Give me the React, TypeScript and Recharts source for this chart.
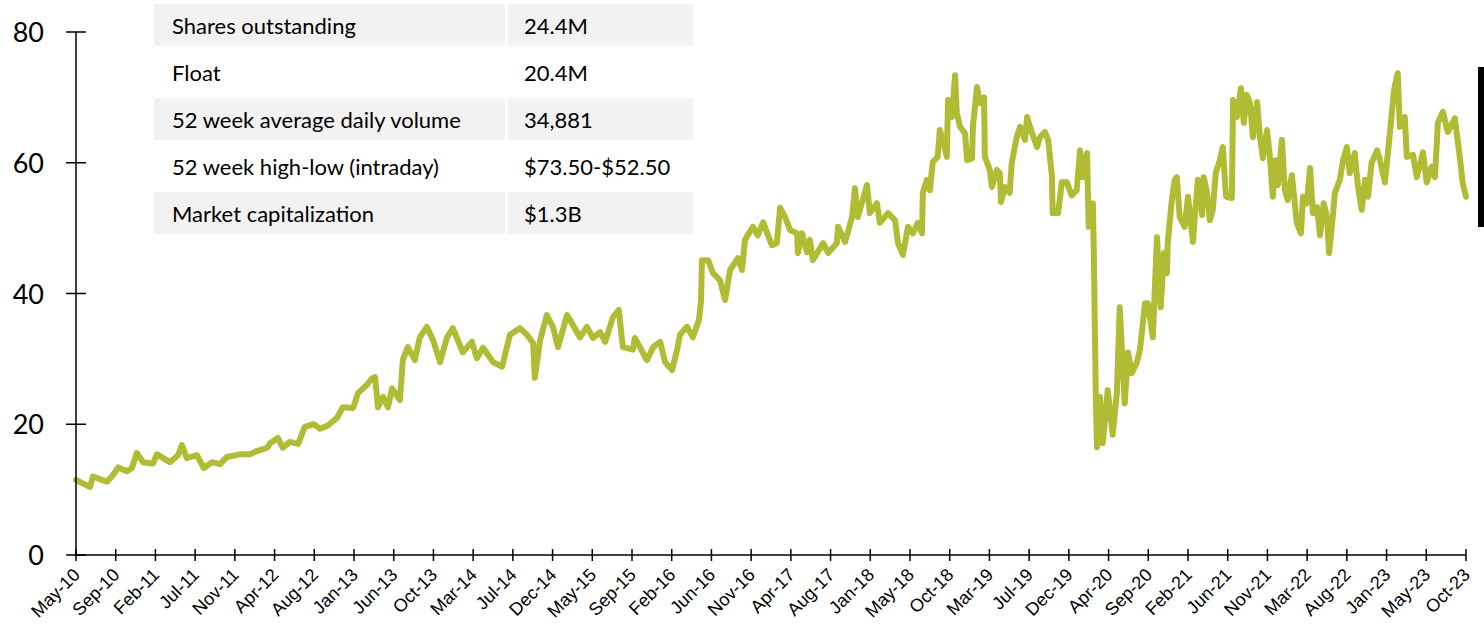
import React from "react";
import { LineChart, Line, XAxis, YAxis } from "recharts";

// Trading-day index (96 trading days between consecutive axis labels)
const dayIndex = [
  0, 15, 34, 41, 58, 75, 89, 102, 123, 135, 147, 162, 186, 196, 227, 247, 256, 268, 292, 309,
  329, 348, 365, 396, 421, 437, 462, 469, 488, 500, 517, 537, 553, 575, 590, 609, 631, 645, 670, 682,
  703, 715, 723, 730, 742, 754, 764, 783, 790, 802, 819, 831, 848, 863, 880, 897, 911, 935, 957, 969,
  984, 1008, 1030, 1049, 1073, 1090, 1105, 1109, 1122, 1138, 1153, 1165, 1187, 1201, 1218, 1235, 1250, 1267, 1279, 1298,
  1312, 1322, 1346, 1351, 1380, 1395, 1412, 1424, 1441, 1453, 1460, 1477, 1491, 1506, 1511, 1513, 1528, 1540, 1557, 1569,
  1581, 1600, 1610, 1617, 1636, 1648, 1661, 1682, 1694, 1702, 1714, 1726, 1743, 1745, 1755, 1767, 1774, 1781, 1806, 1818,
  1839, 1842, 1859, 1876, 1883, 1890, 1912, 1919, 1936, 1943, 1963, 1980, 1987, 1999, 2011, 2023, 2035, 2045, 2047, 2057,
  2064, 2071, 2083, 2088, 2100, 2105, 2108, 2117, 2125, 2129, 2137, 2149, 2154, 2166, 2168, 2178, 2185, 2195, 2197, 2209,
  2214, 2226, 2233, 2236, 2245, 2257, 2262, 2274, 2282, 2294, 2299, 2311, 2323, 2330, 2342, 2350, 2359, 2361, 2374, 2383,
  2395, 2407, 2419, 2427, 2434, 2444, 2448, 2458, 2460, 2465, 2468, 2475, 2482, 2494, 2506, 2516, 2523, 2535, 2543, 2552,
  2564, 2572, 2584, 2591, 2603, 2613, 2622, 2630, 2637, 2639, 2649, 2656, 2661, 2668, 2680, 2688, 2700, 2705, 2712, 2722,
  2726, 2734, 2741, 2748, 2755, 2765, 2772, 2780, 2794, 2797, 2806, 2816, 2823, 2830, 2838, 2845, 2855, 2862, 2869, 2879,
  2886, 2893, 2900, 2905, 2915, 2922, 2929, 2939, 2951, 2961, 2966, 2975, 2983, 2990, 3000, 3007, 3016, 3024, 3029, 3038,
  3043, 3055, 3063, 3072, 3079, 3091, 3099, 3108, 3116, 3123, 3132, 3145, 3152, 3164, 3176, 3186, 3195, 3200, 3212, 3217,
  3232, 3241, 3256, 3265, 3277, 3285, 3292, 3304, 3316, 3333, 3345, 3352, 3360,
];

// Closing share price ($)
const price = [
  11.5, 11.0, 10.4, 12.0, 11.6, 11.2, 12.2, 13.4, 12.8, 13.3, 15.6, 14.2, 14.0, 15.4, 14.2, 15.3, 16.8, 14.8, 15.3, 13.3,
  14.2, 13.9, 15.0, 15.4, 15.4, 15.9, 16.4, 17.1, 17.9, 16.4, 17.3, 17.0, 19.6, 20.0, 19.3, 19.8, 21.0, 22.6, 22.5, 24.8,
  26.0, 27.0, 27.2, 22.6, 24.2, 22.6, 25.5, 23.7, 29.8, 31.8, 29.8, 33.3, 34.9, 32.9, 29.5, 33.3, 34.7, 31.0, 32.6, 30.1,
  31.7, 29.5, 28.8, 33.7, 34.7, 33.7, 32.4, 27.1, 32.9, 36.7, 34.9, 31.8, 36.7, 35.2, 33.3, 34.9, 33.2, 34.1, 32.6, 36.4,
  37.5, 31.8, 31.4, 33.2, 29.8, 31.8, 32.6, 29.5, 28.3, 31.4, 33.7, 34.9, 33.3, 36.0, 39.0, 45.1, 45.1, 43.1, 42.0, 39.0,
  43.6, 45.4, 43.6, 48.2, 50.2, 48.9, 50.9, 47.4, 47.7, 53.1, 51.7, 49.7, 49.2, 46.2, 49.2, 46.3, 48.2, 45.1, 47.7, 46.2,
  47.7, 50.2, 47.9, 51.7, 56.1, 51.7, 56.6, 52.3, 53.8, 50.8, 52.3, 51.2, 47.7, 45.9, 50.2, 49.2, 50.8, 49.2, 55.4, 57.4,
  55.8, 60.1, 60.9, 65.0, 62.4, 60.9, 69.6, 67.0, 73.4, 67.6, 65.5, 64.5, 60.4, 60.7, 65.5, 71.6, 69.1, 70.0, 60.9, 58.9,
  56.3, 58.9, 58.4, 54.0, 56.3, 55.4, 60.0, 63.9, 65.5, 63.5, 67.0, 64.5, 62.4, 63.9, 64.7, 63.5, 58.0, 52.3, 52.3, 57.0,
  57.0, 55.0, 55.8, 61.9, 57.8, 61.5, 50.2, 53.8, 47.7, 24.8, 16.5, 24.2, 17.1, 25.2, 18.4, 24.8, 37.9, 23.2, 31.0, 27.8,
  29.4, 31.4, 38.5, 38.5, 33.3, 48.6, 37.9, 46.2, 43.1, 47.7, 54.3, 57.4, 57.8, 51.7, 50.2, 54.8, 47.9, 52.3, 57.4, 52.0,
  57.8, 55.4, 51.2, 52.8, 58.4, 60.4, 62.4, 54.8, 54.6, 69.6, 67.0, 71.4, 66.1, 70.4, 69.1, 63.9, 69.3, 63.9, 60.7, 65.0,
  60.9, 54.8, 60.4, 56.6, 63.5, 55.8, 54.3, 58.1, 50.8, 49.2, 54.8, 53.8, 59.2, 52.3, 53.2, 48.9, 53.8, 51.7, 46.2, 51.7,
  55.4, 57.4, 60.4, 62.4, 58.4, 61.5, 56.3, 52.8, 57.4, 54.8, 60.0, 61.9, 60.4, 57.0, 64.5, 71.1, 73.7, 65.5, 67.0, 60.9,
  61.2, 57.8, 61.6, 57.0, 59.4, 57.8, 66.1, 67.8, 64.7, 66.8, 60.9, 56.9, 54.8,
];

const tickLabels = [
  "May-10", "Sep-10", "Feb-11", "Jul-11", "Nov-11", "Apr-12", "Aug-12", "Jan-13", "Jun-13", "Oct-13",
  "Mar-14", "Jul-14", "Dec-14", "May-15", "Sep-15", "Feb-16", "Jun-16", "Nov-16", "Apr-17", "Aug-17",
  "Jan-18", "May-18", "Oct-18", "Mar-19", "Jul-19", "Dec-19", "Apr-20", "Sep-20", "Feb-21", "Jun-21",
  "Nov-21", "Mar-22", "Aug-22", "Jan-23", "May-23", "Oct-23",
];
const daysPerLabel = 96;

const yTicks = [0, 20, 40, 60, 80];

const tableLabels = [
  "Shares outstanding",
  "Float",
  "52 week average daily volume",
  "52 week high-low (intraday)",
  "Market capitalization",
];
const tableValues = ["24.4M", "20.4M", "34,881", "$73.50-$52.50", "$1.3B"];

const data = dayIndex.map((d, i) => ({ d, price: price[i] }));
const xTicks = tickLabels.map((_, i) => i * daysPerLabel);

const LINE_COLOR = "#b0bc34";
const SANS = "Lato, 'Noto Sans', sans-serif";
const ARIAL = "'Liberation Sans', Arial, sans-serif";

const XTick = (props: any) => {
  const { x, y, payload } = props;
  const i = Math.round(payload.value / daysPerLabel);
  const tx = x + 5;
  const ty = y + 21;
  return (
    <g>
      <line x1={x} x2={x} y1={y - 6} y2={y + 6} stroke="#000" strokeWidth={1.5} />
      <text
        x={tx}
        y={ty}
        transform={`rotate(-45 ${tx} ${ty})`}
        textAnchor="end"
        fontFamily={ARIAL}
        fontSize={18}
        fill="#000"
      >
        {tickLabels[i]}
      </text>
    </g>
  );
};

const YTick = (props: any) => {
  const { x, y, payload } = props;
  return (
    <g>
      <line x1={x - 10} x2={x + 10} y1={y} y2={y} stroke="#000" strokeWidth={1.5} />
      <text x={x - 32} y={y + 10} textAnchor="end" fontFamily={SANS} fontSize={27} fill="#000">
        {payload.value}
      </text>
    </g>
  );
};

export default function App() {
  return (
    <div style={{ position: "absolute", left: 0, top: 0, width: 1484, height: 628, background: "#fff" }}>
      <LineChart
        width={1484}
        height={628}
        data={data}
        margin={{ top: 32, right: 18, bottom: 0, left: 0 }}
      >
        <XAxis
          dataKey="d"
          type="number"
          domain={[0, tickLabels.length * daysPerLabel - daysPerLabel]}
          ticks={xTicks}
          interval={0}
          tickSize={0}
          tickMargin={0}
          tick={<XTick />}
          axisLine={{ stroke: "#000", strokeWidth: 1.5 }}
          tickLine={false}
          height={73}
        />
        <YAxis
          type="number"
          domain={[0, 80]}
          ticks={yTicks}
          interval={0}
          width={76}
          tickSize={0}
          tickMargin={0}
          tick={<YTick />}
          axisLine={{ stroke: "#000", strokeWidth: 1.5 }}
          tickLine={false}
        />
        <Line
          type="linear"
          dataKey="price"
          stroke={LINE_COLOR}
          strokeWidth={6}
          strokeLinejoin="round"
          strokeLinecap="round"
          dot={false}
          isAnimationActive={false}
        />
      </LineChart>

      <div style={{ position: "absolute", left: 154, top: 4, width: 539 }}>
        {tableLabels.map((label, i) => (
          <div
            key={label}
            style={{
              display: "flex",
              height: 42,
              marginBottom: 5,
              fontFamily: SANS,
              fontSize: 22,
              color: "#000",
            }}
          >
            <div
              style={{
                width: 351,
                marginRight: 3,
                background: i % 2 === 0 ? "#f2f2f2" : "#fff",
                display: "flex",
                alignItems: "center",
                paddingLeft: 18,
                boxSizing: "border-box",
              }}
            >
              {label}
            </div>
            <div
              style={{
                flex: 1,
                background: i % 2 === 0 ? "#f2f2f2" : "#fff",
                display: "flex",
                alignItems: "center",
                paddingLeft: 16,
                boxSizing: "border-box",
              }}
            >
              {tableValues[i]}
            </div>
          </div>
        ))}
      </div>

      <div style={{ position: "absolute", left: 1478, top: 67, width: 6, height: 160, background: "#000" }} />
    </div>
  );
}
